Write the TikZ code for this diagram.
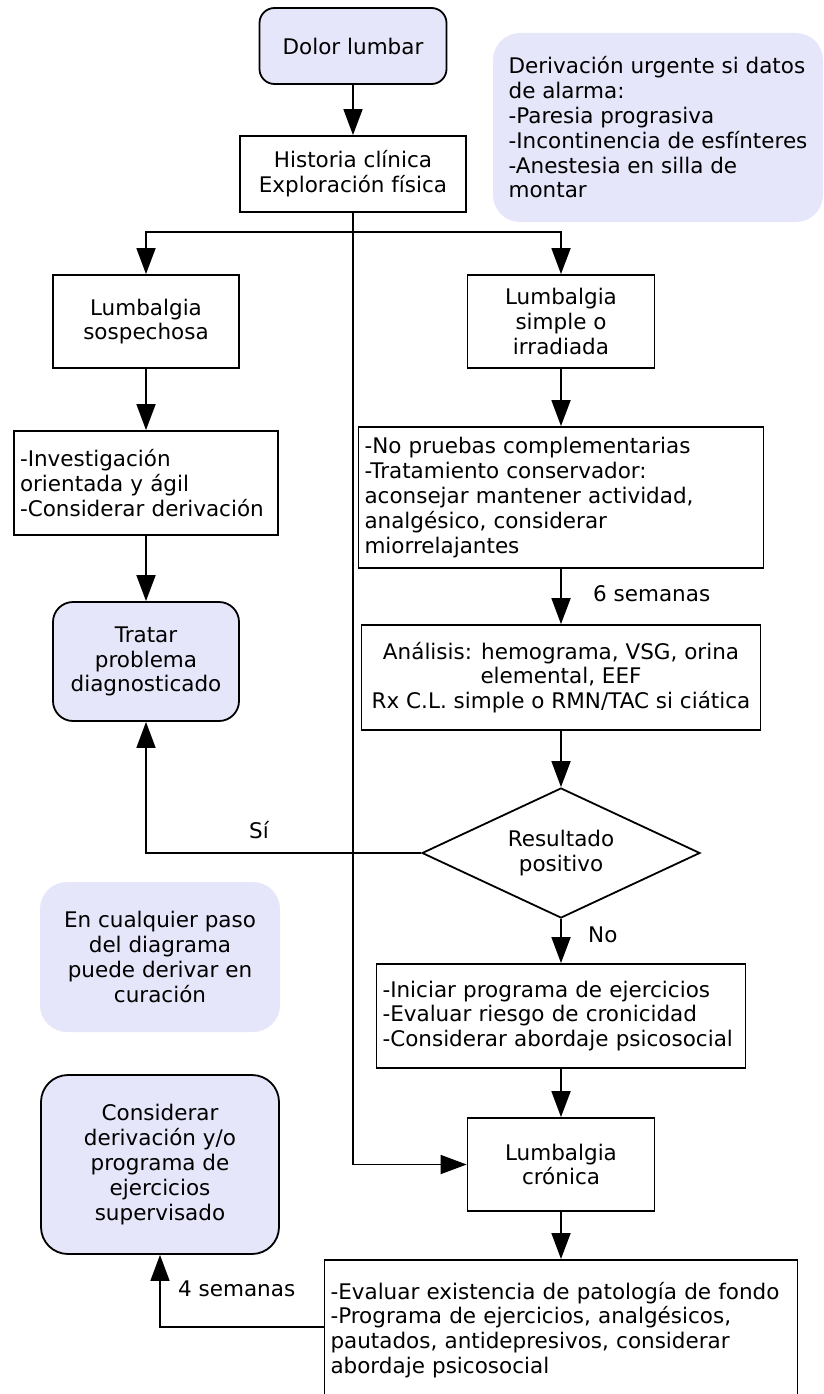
\documentclass[tikz,border=0pt]{standalone}
\usepackage{fontspec}
\setmainfont{DejaVu Sans}
\usepackage{tikz}
\usetikzlibrary{shapes.geometric, arrows.meta}
\definecolor{lav}{HTML}{E6E6FA}
\tikzset{
    every node/.style={font=\fontsize{21.5}{24.8}\selectfont, inner sep=0pt},
    process/.style={draw, line width=1.8pt, align=center},
    listbox/.style={draw, line width=1.8pt, align=left, inner xsep=6pt},
    terminal/.style={draw, line width=1.8pt, fill=lav, align=center, rounded corners=#1},
    note/.style={fill=lav, align=center, rounded corners=27pt},
    decision/.style={draw, diamond, line width=1.8pt, align=center, aspect=2.14},
    link/.style={line width=1.8pt, -{Triangle[length=26pt, width=19pt]}},
    tag/.style={anchor=base west}
}

\begin{document}
\begin{tikzpicture}[x=1pt, y=-1pt]
    \path [use as bounding box, clip] (0,0) rectangle (823,1394);

    \node [terminal=15pt, minimum width=187pt, minimum height=76pt] (dolor) at (353,46) {Dolor lumbar};
    \node [process, minimum width=226pt, minimum height=76pt] (historia) at (353,174) {Historia clínica\\Exploración física};
    \node [note, align=left, minimum width=330pt, minimum height=189pt] (alarma) at (658,127.5)
      {Derivación urgente si datos\\de alarma:\\-Paresia prograsiva\\-Incontinencia de esfínteres\\-Anestesia en silla de\\montar};

    \coordinate (split) at (353,232);
    \node [process, minimum width=186pt, minimum height=93pt] (sosp) at (146,321.5) {Lumbalgia\\sospechosa};
    \node [process, minimum width=187pt, minimum height=93pt] (simple) at (561,321.5) {Lumbalgia\\simple o\\irradiada};

    \node [listbox, text width=252pt, minimum height=104pt] (investig) at (146,483)
      {-Investigación\\orientada y ágil\\-Considerar derivación};
    \node [listbox, text width=393pt, minimum height=141pt] (conserv) at (561,497.5)
      {-No pruebas complementarias\\-Tratamiento conservador:\\aconsejar mantener actividad,\\analgésico, considerar\\miorrelajantes};

    \node [terminal=20pt, minimum width=186pt, minimum height=119pt] (tratar) at (146,661.5) {Tratar\\problema\\diagnosticado};
    \node [process, minimum width=399pt, minimum height=105pt] (analisis) at (561,677.5)
      {Análisis: hemograma, VSG, orina\\elemental, EEF\\Rx C.L. simple o RMN/TAC si ciática};
    \node [decision, minimum width=278pt, minimum height=130pt] (resultado) at (561,853) {Resultado\\positivo};

    \node [note, minimum width=240pt, minimum height=150pt] (curacion) at (160,957)
      {En cualquier paso\\del diagrama\\puede derivar en\\curación};
    \node [listbox, text width=357pt, minimum height=104pt] (ejercicios) at (561,1016)
      {-Iniciar programa de ejercicios\\-Evaluar riesgo de cronicidad\\-Considerar abordaje psicosocial};

    \node [process, minimum width=187pt, minimum height=93pt] (cronica) at (561,1164.5) {Lumbalgia\\crónica};
    \node [terminal=27pt, minimum width=238pt, minimum height=179pt] (derivar) at (160,1164.5)
      {Considerar\\derivación y/o\\programa de\\ejercicios\\supervisado};
    \node [listbox, anchor=north, text width=461pt, inner ysep=22pt, text depth=140pt] (fondo) at (561,1259)
      {-Evaluar existencia de patología de fondo\\-Programa de ejercicios, analgésicos,\\pautados, antidepresivos, considerar\\abordaje psicosocial};

    \node [tag] (seis) at (593,601) {6 semanas};
    \node [tag] (si) at (249,838) {Sí};
    \node [tag] (no) at (588,942) {No};
    \node [tag] (cuatro) at (178,1296) {4 semanas};

    \draw [link] (dolor) -- (historia);
    \draw [link] (historia) |- (cronica);
    \draw [link] (split) -| (sosp);
    \draw [link] (split) -| (simple);
    \draw [link] (sosp) -- (investig);
    \draw [link] (investig) -- (tratar);
    \draw [link] (simple) -- (conserv);
    \draw [link] (conserv) -- (analisis);
    \draw [link] (analisis) -- (resultado);
    \draw [link] (resultado) -| (tratar);
    \draw [link] (resultado) -- (ejercicios);
    \draw [link] (ejercicios) -- (cronica);
    \draw [link] (cronica) -- (fondo);
    \draw [link] ([yshift=-68pt]fondo.north west) -| (derivar);
  \end{tikzpicture}
\end{document}
